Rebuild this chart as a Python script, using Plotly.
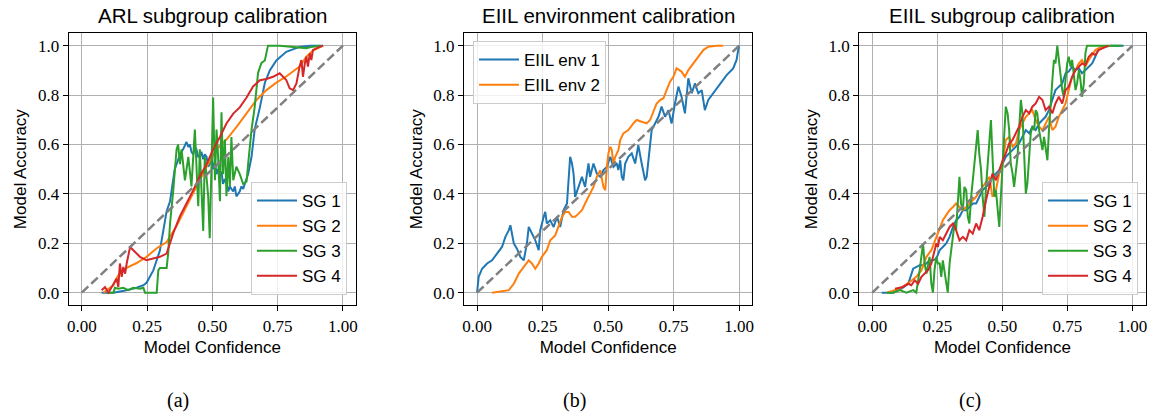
import plotly.graph_objects as go

# ---------------- data ----------------
panel_titles = ["ARL subgroup calibration", "EIIL environment calibration", "EIIL subgroup calibration"]
captions = ["(a)", "(b)", "(c)"]
x_ticks = [0.0, 0.25, 0.5, 0.75, 1.0]
x_tick_text = ["0.00", "0.25", "0.50", "0.75", "1.00"]
y_ticks = [0.0, 0.2, 0.4, 0.6, 0.8, 1.0]
y_tick_text = ["0.0", "0.2", "0.4", "0.6", "0.8", "1.0"]
diag = [0.0, 1.0]

# (a) ARL subgroups
a_sg1_x = [0.076, 0.121, 0.172, 0.210, 0.236, 0.248, 0.274, 0.299, 0.312, 0.325, 0.338, 0.350, 0.356, 0.363, 0.376,
           0.388, 0.395, 0.401, 0.408, 0.414, 0.420, 0.427, 0.433, 0.439, 0.446, 0.452, 0.458, 0.465, 0.471, 0.478,
           0.484, 0.490, 0.497, 0.503, 0.510, 0.516, 0.522, 0.529, 0.535, 0.541, 0.548, 0.554, 0.561, 0.567, 0.573,
           0.580, 0.586, 0.592, 0.599, 0.605, 0.611, 0.618, 0.624, 0.637, 0.650, 0.662, 0.682, 0.701, 0.720, 0.745,
           0.783, 0.834, 0.873, 0.924]
a_sg1_y = [0.0, 0.0, 0.01, 0.02, 0.03, 0.04, 0.09, 0.17, 0.25, 0.33, 0.37, 0.47, 0.50, 0.52, 0.56,
           0.58, 0.60, 0.61, 0.59, 0.60, 0.57, 0.56, 0.59, 0.58, 0.55, 0.55, 0.57, 0.54, 0.56, 0.55,
           0.51, 0.52, 0.55, 0.50, 0.53, 0.48, 0.50, 0.47, 0.49, 0.44, 0.46, 0.45, 0.41, 0.43, 0.42,
           0.41, 0.43, 0.39, 0.40, 0.41, 0.43, 0.42, 0.44, 0.48, 0.55, 0.66, 0.75, 0.85, 0.90, 0.94,
           0.975, 0.995, 1.0, 1.0]

a_sg2_x = [0.083, 0.096, 0.108, 0.121, 0.134, 0.146, 0.172, 0.210, 0.248, 0.287, 0.325, 0.363, 0.401, 0.439, 0.478,
           0.516, 0.554, 0.592, 0.631, 0.669, 0.707, 0.745, 0.783, 0.809, 0.834, 0.860, 0.885, 0.924]
a_sg2_y = [0.0, 0.01, 0.02, 0.03, 0.06, 0.08, 0.10, 0.12, 0.145, 0.18, 0.205, 0.27, 0.35, 0.43, 0.51,
           0.58, 0.62, 0.67, 0.725, 0.78, 0.82, 0.85, 0.875, 0.895, 0.915, 0.955, 0.98, 1.0]

a_sg3_x = [0.096, 0.121, 0.127, 0.140, 0.159, 0.178, 0.197, 0.223, 0.236, 0.242, 0.287, 0.293, 0.299, 0.325, 0.331,
           0.338, 0.350, 0.363, 0.369, 0.376, 0.382, 0.395, 0.408, 0.420, 0.433, 0.439, 0.446, 0.452, 0.465, 0.471,
           0.484, 0.490, 0.497, 0.503, 0.510, 0.516, 0.522, 0.529, 0.535, 0.541, 0.548, 0.554, 0.561, 0.567, 0.573,
           0.580, 0.592, 0.605, 0.618, 0.631, 0.637, 0.650, 0.662, 0.675, 0.688, 0.701, 0.713, 0.758, 0.809, 0.860,
           0.885, 0.911]
a_sg3_y = [0.0, 0.0, 0.02, 0.016, 0.02, 0.01, 0.02, 0.016, 0.02, 0.0, 0.0, 0.09, 0.10, 0.10, 0.16,
           0.28, 0.41, 0.58, 0.60, 0.52, 0.58, 0.455, 0.55, 0.43, 0.66, 0.50, 0.35, 0.58, 0.25, 0.55,
           0.39, 0.22, 0.52, 0.79, 0.455, 0.66, 0.55, 0.37, 0.73, 0.48, 0.62, 0.39, 0.55, 0.43, 0.63,
           0.455, 0.51, 0.48, 0.44, 0.45, 0.52, 0.66, 0.75, 0.89, 0.93, 0.94, 1.0, 1.0, 0.995, 0.99,
           0.996, 1.0]

a_sg4_x = [0.076, 0.089, 0.102, 0.121, 0.134, 0.140, 0.146, 0.153, 0.159, 0.166, 0.172, 0.185, 0.197, 0.210, 0.223,
           0.248, 0.274, 0.299, 0.325, 0.350, 0.376, 0.401, 0.427, 0.452, 0.478, 0.503, 0.529, 0.554, 0.580, 0.605,
           0.631, 0.656, 0.682, 0.707, 0.732, 0.758, 0.771, 0.783, 0.796, 0.809, 0.822, 0.828, 0.834, 0.841, 0.847,
           0.854, 0.860, 0.866, 0.873, 0.879, 0.885, 0.898, 0.911, 0.924]
a_sg4_y = [0.01, 0.023, 0.0, 0.036, 0.057, 0.023, 0.118, 0.064, 0.104, 0.077, 0.118, 0.185, 0.172, 0.158, 0.145,
           0.131, 0.138, 0.145, 0.158, 0.24, 0.31, 0.36, 0.415, 0.47, 0.52, 0.58, 0.63, 0.685, 0.725, 0.75,
           0.79, 0.835, 0.86, 0.865, 0.874, 0.888, 0.874, 0.861, 0.827, 0.82, 0.847, 0.888, 0.915, 0.942, 0.874,
           0.928, 0.955, 0.915, 0.969, 0.942, 0.982, 0.989, 0.996, 1.0]

# (b) EIIL environments
b_env1_x = [0.0, 0.006, 0.019, 0.038, 0.057, 0.076, 0.095, 0.108, 0.121, 0.127, 0.133, 0.140, 0.152, 0.165, 0.178,
            0.190, 0.197, 0.209, 0.222, 0.235, 0.241, 0.254, 0.260, 0.266, 0.279, 0.292, 0.305, 0.317, 0.330, 0.343,
            0.349, 0.355, 0.362, 0.368, 0.374, 0.387, 0.400, 0.412, 0.425, 0.431, 0.444, 0.457, 0.470, 0.482, 0.495,
            0.508, 0.520, 0.533, 0.539, 0.546, 0.552, 0.558, 0.565, 0.577, 0.590, 0.603, 0.615, 0.628, 0.641, 0.647,
            0.654, 0.660, 0.666, 0.679, 0.692, 0.704, 0.717, 0.730, 0.742, 0.755, 0.768, 0.780, 0.793, 0.806, 0.819,
            0.831, 0.844, 0.857, 0.869, 0.882, 0.901, 0.926, 0.952, 0.977, 0.990, 0.996, 1.0]
b_env1_y = [0.0, 0.064, 0.097, 0.118, 0.131, 0.158, 0.185, 0.226, 0.253, 0.273, 0.239, 0.199, 0.178, 0.145, 0.131,
            0.199, 0.266, 0.239, 0.212, 0.172, 0.253, 0.307, 0.327, 0.280, 0.293, 0.266, 0.307, 0.266, 0.334, 0.361,
            0.469, 0.550, 0.523, 0.482, 0.388, 0.428, 0.469, 0.428, 0.523, 0.469, 0.523, 0.482, 0.469, 0.496, 0.509,
            0.550, 0.509, 0.523, 0.496, 0.536, 0.469, 0.455, 0.523, 0.550, 0.564, 0.523, 0.597, 0.523, 0.455, 0.469,
            0.536, 0.618, 0.658, 0.685, 0.712, 0.753, 0.712, 0.739, 0.685, 0.766, 0.834, 0.793, 0.726, 0.868, 0.807,
            0.847, 0.807, 0.820, 0.739, 0.780, 0.807, 0.847, 0.881, 0.908, 0.942, 0.982, 1.0]

b_env2_x = [0.057, 0.121, 0.140, 0.159, 0.178, 0.197, 0.209, 0.222, 0.235, 0.247, 0.266, 0.279, 0.298, 0.311, 0.324,
            0.336, 0.349, 0.362, 0.374, 0.387, 0.400, 0.412, 0.431, 0.444, 0.457, 0.470, 0.482, 0.489, 0.495, 0.501,
            0.508, 0.514, 0.520, 0.527, 0.539, 0.546, 0.558, 0.577, 0.596, 0.609, 0.628, 0.647, 0.660, 0.673, 0.685,
            0.698, 0.711, 0.723, 0.736, 0.749, 0.761, 0.780, 0.793, 0.806, 0.825, 0.844, 0.863, 0.882, 0.914, 0.939]
b_env2_y = [0.0, 0.01, 0.036, 0.077, 0.104, 0.131, 0.118, 0.097, 0.118, 0.145, 0.172, 0.212, 0.232, 0.266, 0.307,
            0.327, 0.327, 0.307, 0.307, 0.320, 0.334, 0.361, 0.401, 0.428, 0.469, 0.496, 0.428, 0.415, 0.509, 0.564,
            0.591, 0.577, 0.523, 0.550, 0.577, 0.618, 0.645, 0.658, 0.685, 0.699, 0.692, 0.685, 0.699, 0.732, 0.766,
            0.780, 0.787, 0.820, 0.854, 0.874, 0.908, 0.895, 0.874, 0.901, 0.928, 0.955, 0.982, 0.996, 1.0, 1.0]

# (c) EIIL subgroups
c_sg1_x = [0.036, 0.080, 0.112, 0.138, 0.157, 0.169, 0.182, 0.195, 0.208, 0.220, 0.233, 0.246, 0.259, 0.271, 0.284,
           0.297, 0.310, 0.322, 0.335, 0.348, 0.361, 0.373, 0.386, 0.399, 0.411, 0.424, 0.437, 0.450, 0.462, 0.475,
           0.488, 0.501, 0.513, 0.526, 0.539, 0.552, 0.564, 0.577, 0.590, 0.603, 0.615, 0.628, 0.641, 0.654, 0.666,
           0.679, 0.692, 0.704, 0.717, 0.730, 0.743, 0.755, 0.768, 0.781, 0.794, 0.806, 0.819, 0.832, 0.845, 0.857,
           0.870, 0.883, 0.921, 0.966]
c_sg1_y = [0.0, 0.0, 0.016, 0.036, 0.097, 0.104, 0.111, 0.111, 0.118, 0.131, 0.131, 0.138, 0.172, 0.185, 0.199,
           0.226, 0.266, 0.293, 0.307, 0.334, 0.334, 0.347, 0.361, 0.361, 0.388, 0.415, 0.428, 0.442, 0.469, 0.482,
           0.496, 0.523, 0.550, 0.564, 0.577, 0.591, 0.604, 0.631, 0.658, 0.645, 0.672, 0.658, 0.685, 0.699, 0.712,
           0.739, 0.780, 0.820, 0.834, 0.847, 0.888, 0.895, 0.915, 0.901, 0.908, 0.888, 0.901, 0.915, 0.928, 0.955,
           0.989, 0.996, 1.0, 1.0]

c_sg2_x = [0.055, 0.106, 0.144, 0.169, 0.189, 0.208, 0.227, 0.246, 0.259, 0.271, 0.284, 0.297, 0.310, 0.322, 0.335,
           0.348, 0.361, 0.373, 0.399, 0.424, 0.450, 0.462, 0.475, 0.488, 0.501, 0.513, 0.526, 0.539, 0.552, 0.564,
           0.577, 0.590, 0.603, 0.615, 0.628, 0.641, 0.654, 0.666, 0.679, 0.692, 0.704, 0.717, 0.730, 0.743, 0.755,
           0.768, 0.781, 0.794, 0.806, 0.819, 0.832, 0.857, 0.883, 0.921]
c_sg2_y = [0.0, 0.016, 0.043, 0.064, 0.091, 0.145, 0.172, 0.226, 0.266, 0.293, 0.314, 0.334, 0.347, 0.361, 0.347,
           0.334, 0.347, 0.361, 0.388, 0.428, 0.469, 0.388, 0.415, 0.482, 0.523, 0.618, 0.631, 0.591, 0.604, 0.658,
           0.685, 0.712, 0.726, 0.739, 0.699, 0.672, 0.658, 0.685, 0.712, 0.658, 0.672, 0.712, 0.739, 0.766, 0.820,
           0.874, 0.901, 0.928, 0.942, 0.915, 0.942, 0.982, 0.996, 1.0]

c_sg3_x = [0.055, 0.080, 0.106, 0.131, 0.157, 0.169, 0.182, 0.195, 0.201, 0.208, 0.220, 0.227, 0.233, 0.239, 0.246,
           0.252, 0.259, 0.265, 0.271, 0.278, 0.284, 0.290, 0.297, 0.303, 0.310, 0.316, 0.322, 0.329, 0.335, 0.341,
           0.348, 0.354, 0.361, 0.367, 0.373, 0.380, 0.386, 0.392, 0.399, 0.405, 0.411, 0.418, 0.424, 0.431, 0.437,
           0.443, 0.450, 0.456, 0.462, 0.469, 0.475, 0.482, 0.488, 0.494, 0.501, 0.507, 0.513, 0.520, 0.526, 0.532,
           0.539, 0.545, 0.552, 0.558, 0.564, 0.571, 0.577, 0.583, 0.590, 0.596, 0.603, 0.609, 0.615, 0.622, 0.628,
           0.634, 0.641, 0.647, 0.654, 0.660, 0.666, 0.673, 0.679, 0.685, 0.692, 0.698, 0.704, 0.711, 0.717, 0.724,
           0.730, 0.736, 0.743, 0.749, 0.755, 0.762, 0.768, 0.775, 0.781, 0.787, 0.794, 0.800, 0.806, 0.813, 0.819,
           0.825, 0.845, 0.883, 0.921, 0.959]
c_sg3_y = [0.0, 0.0, 0.01, 0.0, 0.01, 0.0, 0.091, 0.199, 0.118, 0.077, 0.145, 0.036, 0.0, 0.091, 0.145,
           0.118, 0.118, 0.064, 0.131, 0.077, 0.036, 0.0, 0.118, 0.172, 0.226, 0.280, 0.253, 0.388, 0.469, 0.361,
           0.334, 0.428, 0.415, 0.307, 0.280, 0.388, 0.455, 0.523, 0.577, 0.658, 0.564, 0.496, 0.388, 0.307, 0.428,
           0.523, 0.618, 0.699, 0.550, 0.388, 0.415, 0.334, 0.266, 0.388, 0.523, 0.645, 0.753, 0.726, 0.658, 0.523,
           0.482, 0.428, 0.509, 0.550, 0.658, 0.780, 0.726, 0.536, 0.401, 0.442, 0.550, 0.645, 0.672, 0.658, 0.739,
           0.726, 0.658, 0.618, 0.577, 0.631, 0.591, 0.536, 0.658, 0.766, 0.861, 0.942, 0.928, 1.0, 0.942, 0.888,
           0.820, 0.793, 0.861, 0.928, 0.955, 0.915, 0.942, 0.861, 0.820, 0.847, 0.901, 0.861, 0.793, 0.847, 0.969,
           1.0, 1.0, 1.0, 1.0, 1.0]

c_sg4_x = [0.087, 0.118, 0.138, 0.150, 0.163, 0.176, 0.189, 0.201, 0.214, 0.227, 0.239, 0.246, 0.252, 0.259, 0.271,
           0.284, 0.297, 0.310, 0.322, 0.335, 0.348, 0.361, 0.373, 0.386, 0.399, 0.411, 0.424, 0.437, 0.450, 0.462,
           0.475, 0.488, 0.501, 0.513, 0.526, 0.539, 0.552, 0.564, 0.577, 0.590, 0.603, 0.615, 0.628, 0.641, 0.654,
           0.666, 0.679, 0.692, 0.704, 0.717, 0.730, 0.743, 0.755, 0.768, 0.781, 0.794, 0.806, 0.819, 0.832, 0.845,
           0.857, 0.870, 0.883, 0.908]
c_sg4_y = [0.016, 0.023, 0.036, 0.030, 0.050, 0.036, 0.064, 0.077, 0.091, 0.118, 0.172, 0.199, 0.185, 0.226, 0.212,
           0.239, 0.266, 0.280, 0.253, 0.212, 0.226, 0.212, 0.253, 0.239, 0.280, 0.253, 0.307, 0.374, 0.428, 0.482,
           0.455, 0.496, 0.536, 0.564, 0.604, 0.618, 0.645, 0.672, 0.712, 0.739, 0.726, 0.753, 0.766, 0.793, 0.780,
           0.739, 0.753, 0.726, 0.766, 0.793, 0.766, 0.820, 0.834, 0.874, 0.901, 0.915, 0.928, 0.921, 0.955, 0.969,
           0.962, 0.982, 0.989, 1.0]

# ---------------- figure ----------------
W, H = 1151, 413
C_BLUE, C_ORANGE, C_GREEN, C_RED = "#1f77b4", "#ff7f0e", "#2ca02c", "#d62728"
SANS = "Liberation Sans"
SERIF = "Liberation Serif"


def px_x(p):
    return p / W


def px_y(p):
    return 1 - p / H


x_domains = [[px_x(68.7), px_x(356.0)], [px_x(464.0), px_x(752.3)], [px_x(859.3), px_x(1145.5)]]
y_domain = [px_y(305.0), px_y(33.3)]

fig = go.Figure()

panels = [
    ("x", "y", "legend", [("SG 1", a_sg1_x, a_sg1_y, C_BLUE), ("SG 2", a_sg2_x, a_sg2_y, C_ORANGE),
                          ("SG 3", a_sg3_x, a_sg3_y, C_GREEN), ("SG 4", a_sg4_x, a_sg4_y, C_RED)]),
    ("x2", "y2", "legend2", [("EIIL env 1", b_env1_x, b_env1_y, C_BLUE), ("EIIL env 2", b_env2_x, b_env2_y, C_ORANGE)]),
    ("x3", "y3", "legend3", [("SG 1", c_sg1_x, c_sg1_y, C_BLUE), ("SG 2", c_sg2_x, c_sg2_y, C_ORANGE),
                             ("SG 3", c_sg3_x, c_sg3_y, C_GREEN), ("SG 4", c_sg4_x, c_sg4_y, C_RED)]),
]

for xa, ya, lg, series in panels:
    for name, xs, ys, col in series:
        fig.add_trace(go.Scatter(x=xs, y=ys, mode="lines", name=name, xaxis=xa, yaxis=ya, legend=lg,
                                 line=dict(color=col, width=2)))
    fig.add_trace(go.Scatter(x=diag, y=diag, mode="lines", showlegend=False, xaxis=xa, yaxis=ya,
                             line=dict(color="#808080", width=2.5, dash="9px,4px")))

axis_common = dict(showline=True, linecolor="black", linewidth=1.2, mirror=True, ticks="outside",
                   ticklen=5, tickwidth=1, tickcolor="black", showgrid=True, gridcolor="#b0b0b0",
                   gridwidth=1, zeroline=False, range=[-0.05, 1.05], automargin=False,
                   tickfont=dict(family=SERIF, size=17, color="black"))

layout = dict(width=W, height=H, margin=dict(l=0, r=0, t=0, b=0, autoexpand=False), paper_bgcolor="white",
              plot_bgcolor="white", showlegend=True, hovermode=False)

for i in range(3):
    sx = "" if i == 0 else str(i + 1)
    layout["xaxis" + sx] = dict(axis_common, domain=x_domains[i], anchor="y" + sx,
                                tickvals=x_ticks, ticktext=x_tick_text,
                                title=dict(text="Model Confidence", font=dict(family=SANS, size=17, color="black"),
                                           standoff=6))
    layout["yaxis" + sx] = dict(axis_common, domain=y_domain, anchor="x" + sx,
                                tickvals=y_ticks, ticktext=y_tick_text,
                                title=dict(text="Model Accuracy", font=dict(family=SANS, size=17, color="black"),
                                           standoff=6))

leg_common = dict(bgcolor="rgba(255,255,255,0.8)", bordercolor="#cccccc", borderwidth=1,
                  font=dict(family=SANS, size=17, color="black"), tracegroupgap=0, itemwidth=40)
layout["legend"] = dict(leg_common, x=px_x(347.0), y=px_y(295.0), xanchor="right", yanchor="bottom")
layout["legend2"] = dict(leg_common, x=px_x(473.0), y=px_y(41.0), xanchor="left", yanchor="top")
layout["legend3"] = dict(leg_common, x=px_x(1138.0), y=px_y(295.0), xanchor="right", yanchor="bottom")

annotations = []
for i in range(3):
    cx = (x_domains[i][0] + x_domains[i][1]) / 2
    annotations.append(dict(text=panel_titles[i], x=cx, y=px_y(15.5), xref="paper", yref="paper",
                            showarrow=False, xanchor="center", yanchor="middle",
                            font=dict(family=SANS, size=20.5, color="black")))
caption_x = [178.0, 574.0, 970.0]
for i in range(3):
    annotations.append(dict(text=captions[i], x=px_x(caption_x[i]), y=px_y(400.0), xref="paper", yref="paper",
                            showarrow=False, xanchor="center", yanchor="middle",
                            font=dict(family=SERIF, size=20, color="black")))
layout["annotations"] = annotations

fig.update_layout(**layout)
# remove the browser's default 8px page margin so the figure fills the window exactly; hide the modebar
fig.write_html("out.html", config={"displayModeBar": False, "staticPlot": False},
               post_script="document.body.style.margin='0px';")
